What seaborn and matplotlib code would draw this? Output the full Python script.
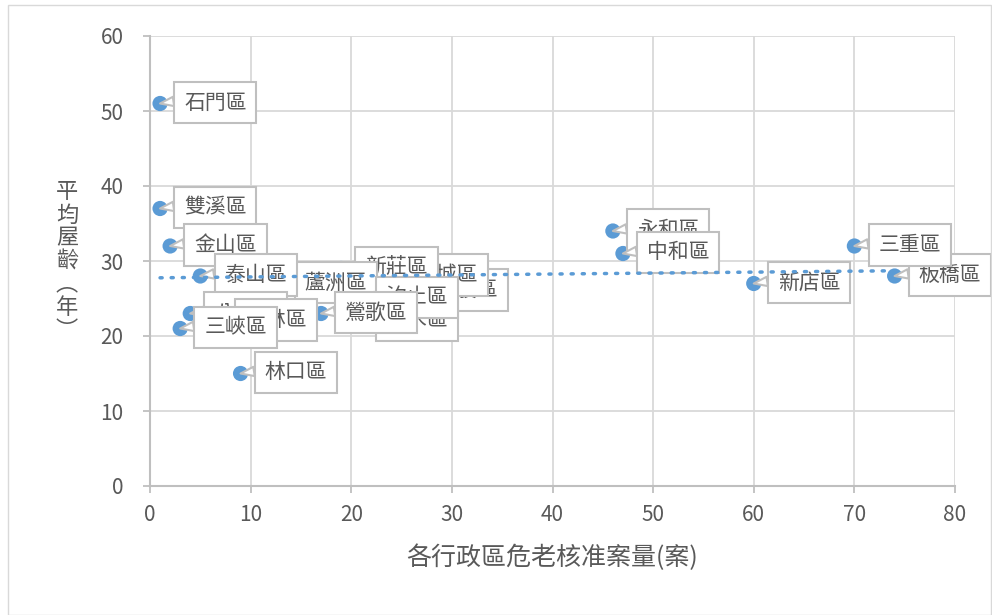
import numpy as np
import pandas as pd
import matplotlib
matplotlib.use("Agg")
import matplotlib.pyplot as plt
import seaborn as sns
from matplotlib.patches import Rectangle

# District data: approved dangerous/old building cases vs. average building age
districts = ["石門區", "雙溪區", "金山區", "五股區", "土城區", "新莊區", "蘆洲區",
             "泰山區", "八里區", "樹林區", "三峽區", "林口區", "淡水區", "汐止區",
             "鶯歌區", "永和區", "中和區", "新店區", "板橋區", "三重區"]
cases = [1, 1, 2, 26, 24, 19, 13, 5, 4, 7, 3, 9, 21, 21, 17, 46, 47, 60, 74, 70]
ages = [51, 37, 32, 26, 28, 29, 27, 28, 23, 22, 21, 15, 22, 25, 23, 34, 31, 27, 28, 32]

x_ticks = [0, 10, 20, 30, 40, 50, 60, 70, 80]
y_ticks = [0, 10, 20, 30, 40, 50, 60]
x_title = "各行政區危老核准案量(案)"
y_title = "平均屋齡（年）"

df = pd.DataFrame({"district": districts, "cases": cases, "age": ages})

sns.set_theme(style="white")
plt.rcParams["font.family"] = ["Noto Sans CJK TC", "DejaVu Sans"]

BLUE = "#5B9BD5"
GRID = "#d9d9d9"
AXIS = "#bfbfbf"
TXT = "#595959"

fig = plt.figure(figsize=(9.92, 6.15), dpi=100)
ax = fig.add_axes([150 / 992, 1 - 486 / 615, 805 / 992, 450 / 615])

# outer chart border
fig.patches.append(Rectangle((8 / 992, 0.0), 983 / 992, 1 - 5 / 615,
                             transform=fig.transFigure, fill=False,
                             ec="#d9d9d9", lw=1.0))

sns.scatterplot(data=df, x="cases", y="age", ax=ax, color=BLUE, s=120,
                edgecolor="none", zorder=2, legend=False)

# callout labels, later ones drawn on top
for i, (name, xv, yv) in enumerate(zip(districts, cases, ages)):
    ax.annotate(name, xy=(xv, yv), xytext=(24, 1), textcoords="offset pixels",
                ha="left", va="center", fontsize=15, color=TXT, zorder=3 + i,
                bbox=dict(boxstyle="square,pad=0.47", fc="white", ec=AXIS, lw=1.5),
                arrowprops=dict(arrowstyle="wedge,tail_width=0.45", fc="white",
                                ec=AXIS, lw=1.5, shrinkA=0, shrinkB=0,
                                relpos=(0.0, 0.62)))

# linear trendline
sns.regplot(data=df, x="cases", y="age", ax=ax, scatter=False, ci=None,
            color=BLUE, truncate=True,
            line_kws=dict(lw=2.5, ls=(0, (0.6, 2.6)), dash_capstyle="round",
                          zorder=100))

ax.set_xlim(0, 80)
ax.set_ylim(0, 60)
ax.set_xticks(x_ticks)
ax.set_yticks(y_ticks)
ax.grid(True, color=GRID, lw=1.3)
ax.set_axisbelow(True)
for side in ["top", "right"]:
    ax.spines[side].set_visible(False)
for side in ["left", "bottom"]:
    ax.spines[side].set_color(AXIS)
    ax.spines[side].set_linewidth(1.5)
ax.tick_params(axis="y", length=5, width=1.3, color=AXIS, labelsize=15,
               labelcolor=TXT, pad=14, direction="out", left=True)
ax.tick_params(axis="x", length=5, width=1.3, color=AXIS, labelsize=15,
               labelcolor=TXT, pad=8, direction="out", bottom=True)

ax.set_xlabel(x_title, fontsize=18, color=TXT, labelpad=13)
ax.set_ylabel("\n".join(["平", "均", "屋", "齡", "︵", "年", "︶"]),
              rotation=0, fontsize=16, color=TXT, va="center", ha="center",
              linespacing=1.0)
ax.yaxis.set_label_coords(-0.103, 0.5)

fig.savefig("out.png", dpi=100)
